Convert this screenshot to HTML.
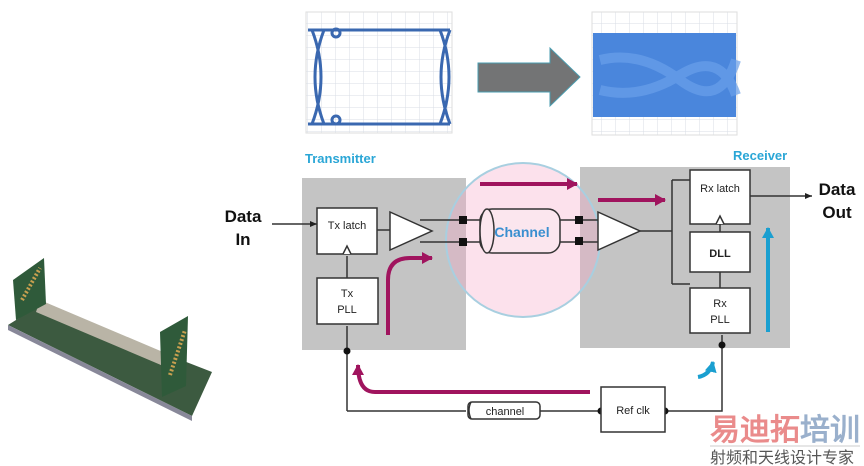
<!DOCTYPE html>
<html><head><meta charset="utf-8"><style>
html,body{margin:0;padding:0;background:#fff;width:864px;height:466px;overflow:hidden}
svg{display:block}
text{font-family:"Liberation Sans",sans-serif}
</style></head><body>
<svg width="864" height="466" viewBox="0 0 864 466" xmlns="http://www.w3.org/2000/svg">
<defs>
<pattern id="grid" width="14" height="12" patternUnits="userSpaceOnUse"><path d="M14 0V12M0 12H14" stroke="#d8dde6" stroke-width="1" fill="none"/></pattern>
<marker id="ah" markerWidth="8" markerHeight="8" refX="7" refY="4" orient="auto" markerUnits="userSpaceOnUse"><path d="M0,1 L7,4 L0,7z" fill="#222"/></marker>
<marker id="mh" markerWidth="14" markerHeight="14" refX="10" refY="7" orient="auto" markerUnits="userSpaceOnUse"><path d="M0,1 L11,7 L0,13z" fill="#a0145e"/></marker>
<marker id="ch" markerWidth="14" markerHeight="14" refX="10" refY="7" orient="auto" markerUnits="userSpaceOnUse"><path d="M0,1 L11,7 L0,13z" fill="#1a9fd0"/></marker>
</defs>

<!-- PCB -->
<polygon points="8,325 40,305 212,372 192,416" fill="#3c5a40"/>
<polygon points="8,325 192,416 192,421 8,330" fill="#889"/>
<polygon points="36,312 40,300 170,355 168,368" fill="#b9b4a6"/>
<polygon points="13,280 44,258 46,304 16,320" fill="#2f5a3a"/>
<polygon points="160,332 188,316 186,386 162,397" fill="#2f5a3a"/>
<line x1="22" y1="300" x2="40" y2="268" stroke="#c8a050" stroke-width="4" stroke-dasharray="2 2"/>
<line x1="170" y1="375" x2="185" y2="330" stroke="#c8a050" stroke-width="4" stroke-dasharray="2 2"/>

<!-- left eye -->
<rect x="306" y="12" width="146" height="121" fill="url(#grid)" stroke="#ddd"/>
<g fill="none" stroke="#3a68b0" stroke-width="3">
<path d="M308 30 H450 M308 124 H450"/>
<path d="M312 30 Q330 77 312 124 M324 30 Q306 77 324 124"/>
<path d="M440 30 Q458 77 440 124 M450 30 Q432 77 450 124"/>
<circle cx="336" cy="33" r="4"/><circle cx="336" cy="120" r="4"/>
</g>
<!-- gray arrow -->
<polygon points="478,63 550,63 550,48 580,77 550,106 550,92 478,92" fill="#737475" stroke="#4a9db0" stroke-width="1"/>
<!-- right eye -->
<rect x="592" y="12" width="145" height="123" fill="url(#grid)" stroke="#ddd"/>
<rect x="593" y="33" width="143" height="84" fill="#4a86dc"/>
<path d="M600 60 Q640 50 680 80 T736 60 M600 90 Q640 100 680 75 T736 95" stroke="#6aa0ea" stroke-width="10" fill="none" opacity="0.7"/>

<!-- gray blocks -->
<rect x="302" y="178" width="164" height="172" fill="#c4c4c4"/>
<rect x="580" y="167" width="210" height="181" fill="#c4c4c4"/>
<circle cx="523" cy="240" r="77" fill="rgba(246,170,200,0.35)" stroke="#a8cfe0" stroke-width="2"/>

<text x="305" y="163" font-size="13" font-weight="bold" fill="#2aa6d6">Transmitter</text>
<text x="733" y="160" font-size="13" font-weight="bold" fill="#2aa6d6">Receiver</text>

<!-- magenta arrows -->
<line x1="480" y1="184" x2="577" y2="184" stroke="#a0145e" stroke-width="4" marker-end="url(#mh)"/>
<line x1="598" y1="200" x2="665" y2="200" stroke="#a0145e" stroke-width="4" marker-end="url(#mh)"/>
<path d="M388 335 V280 Q388 258 410 258 H432" stroke="#a0145e" stroke-width="4" fill="none" marker-end="url(#mh)"/>
<path d="M590 392 H375 Q358 392 358 365" stroke="#a0145e" stroke-width="4" fill="none" marker-end="url(#mh)"/>
<line x1="768" y1="332" x2="768" y2="228" stroke="#1a9fd0" stroke-width="4" marker-end="url(#ch)"/>
<path d="M698 377 Q710 375 713 362" stroke="#1a9fd0" stroke-width="4" fill="none" marker-end="url(#ch)"/>

<!-- wires -->
<g stroke="#333" stroke-width="1.5" fill="none">
<line x1="272" y1="224" x2="317" y2="224" marker-end="url(#ah)"/>
<line x1="377" y1="230" x2="390" y2="230"/>
<path d="M420 220 H488 M420 242 H488 M555 220 H600 M555 242 H600"/>
<line x1="347" y1="278" x2="347" y2="256"/>
<path d="M640 231 H672 M672 180 V284 M672 180 H690 M672 284 H690"/>
<line x1="750" y1="196" x2="812" y2="196" marker-end="url(#ah)"/>
<line x1="720" y1="272" x2="720" y2="288"/>
<line x1="720" y1="232" x2="720" y2="224"/>
<path d="M347 411 V326 M347 411 H466 M540 411 H601 M665 411 H722 V335"/>
</g>
<g fill="#111">
<rect x="459" y="216" width="8" height="8"/><rect x="459" y="238" width="8" height="8"/>
<rect x="575" y="216" width="8" height="8"/><rect x="575" y="237" width="8" height="8"/>
<circle cx="347" cy="351" r="3.5"/><circle cx="722" cy="345" r="3.5"/>
<circle cx="601" cy="411" r="3.5"/><circle cx="665" cy="411" r="3.5"/>
</g>

<!-- boxes -->
<g fill="#fff" stroke="#333" stroke-width="1.5">
<rect x="317" y="208" width="60" height="46"/>
<rect x="317" y="278" width="61" height="46"/>
<polygon points="390,212 432,231 390,250"/>
<polygon points="598,212 640,231 598,250"/>
<rect x="690" y="170" width="60" height="54"/>
<rect x="690" y="232" width="60" height="40"/>
<rect x="690" y="288" width="60" height="45"/>
<rect x="601" y="387" width="64" height="45"/>
<rect x="468" y="402" width="72" height="17" rx="4"/>
<path d="M471 402 Q467 410 471 419"/>
<rect x="480" y="209" width="80" height="44" rx="12" fill="#fbe6ee"/>
<ellipse cx="487" cy="231" rx="7" ry="22" fill="#fbe6ee"/>
<path d="M343 254 L347 246 L351 254 M716 224 L720 216 L724 224"/>
</g>

<g font-size="11" fill="#222" text-anchor="middle">
<text x="347" y="229">Tx latch</text>
<text x="347" y="297">Tx</text><text x="347" y="313">PLL</text>
<text x="720" y="192">Rx latch</text>
<text x="720" y="257" font-weight="bold">DLL</text>
<text x="720" y="307">Rx</text><text x="720" y="323">PLL</text>
<text x="633" y="414">Ref clk</text>
<text x="505" y="415">channel</text>
</g>
<text x="522" y="237" font-size="14" font-weight="bold" fill="#3a8fd0" text-anchor="middle">Channel</text>
<g font-size="17" font-weight="bold" fill="#111" text-anchor="middle">
<text x="243" y="222">Data</text><text x="243" y="245">In</text>
<text x="837" y="195">Data</text><text x="837" y="218">Out</text>
</g>

<!-- watermark -->
<text x="710" y="440" font-size="30" font-weight="bold" fill="#ea8b8b" font-family="'Liberation Sans','Noto Sans CJK SC',sans-serif">易迪拓<tspan fill="#9ab0cc">培训</tspan></text>
<line x1="710" y1="446" x2="860" y2="446" stroke="#ccc"/>
<text x="710" y="463" font-size="16" fill="#555" font-family="'Liberation Serif','Noto Serif CJK SC',serif">射频和天线设计专家</text>
</svg>
</body></html>
